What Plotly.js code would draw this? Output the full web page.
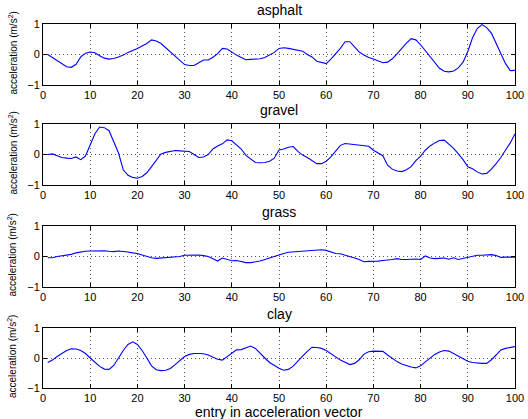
<!DOCTYPE html>
<html>
<head>
<meta charset="utf-8">
<script src="https://cdn.plot.ly/plotly-3.0.1.min.js"></script>
<style>html,body{margin:0;padding:0;background:#fff;}#chart{width:528px;height:419px;}</style>
</head>
<body>
<div id="chart"></div>
<script>
const entries = Array.from({length: 100}, (_, i) => i + 1);

const surfaces = ["asphalt", "gravel", "grass", "clay"];

const asphalt = [0.0,-0.1,-0.18,-0.3,-0.4,-0.42,-0.32,-0.08,0.04,0.08,
 0.06,-0.04,-0.12,-0.15,-0.13,-0.08,-0.02,0.07,0.13,0.2,
 0.28,0.36,0.48,0.44,0.36,0.22,0.1,-0.05,-0.2,-0.33,
 -0.36,-0.36,-0.27,-0.18,-0.18,-0.09,0.03,0.2,0.18,0.07,
 -0.02,-0.1,-0.17,-0.16,-0.15,-0.14,-0.1,-0.01,0.07,0.2,
 0.22,0.2,0.17,0.14,0.11,0.0,-0.08,-0.22,-0.27,-0.3,
 -0.15,0.02,0.2,0.42,0.42,0.25,0.08,-0.02,-0.1,-0.15,
 -0.22,-0.27,-0.25,-0.14,0.02,0.2,0.37,0.52,0.48,0.32,
 0.12,-0.08,-0.28,-0.45,-0.55,-0.57,-0.54,-0.44,-0.25,0.1,
 0.55,0.85,0.98,0.88,0.7,0.35,0.0,-0.3,-0.53,-0.52];

const gravel = [0.0,0.02,-0.04,-0.1,-0.12,-0.13,-0.08,-0.17,-0.05,0.33,
 0.68,0.9,0.88,0.78,0.4,0.05,-0.5,-0.68,-0.75,-0.78,
 -0.72,-0.6,-0.4,-0.2,0.02,0.07,0.09,0.13,0.12,0.1,
 0.1,0.0,-0.1,-0.08,0.0,0.18,0.28,0.35,0.48,0.45,
 0.3,0.18,-0.03,-0.15,-0.26,-0.27,-0.26,-0.22,-0.12,0.15,
 0.18,0.24,0.26,0.1,-0.02,-0.1,-0.2,-0.3,-0.3,-0.22,
 -0.08,0.12,0.3,0.36,0.34,0.34,0.31,0.28,0.27,0.14,
 0.05,-0.04,-0.35,-0.48,-0.54,-0.56,-0.5,-0.4,-0.2,-0.05,
 0.14,0.28,0.38,0.46,0.47,0.35,0.2,0.02,-0.17,-0.4,
 -0.47,-0.57,-0.64,-0.62,-0.48,-0.3,-0.1,0.15,0.38,0.68];

const grass = [-0.04,-0.04,0.0,0.02,0.03,0.07,0.12,0.15,0.17,0.18,
 0.18,0.2,0.19,0.17,0.16,0.18,0.17,0.15,0.12,0.1,
 0.05,0.0,-0.04,-0.06,-0.05,-0.05,-0.03,-0.02,0.0,0.04,
 0.05,0.06,0.05,0.03,0.0,-0.07,-0.15,-0.05,-0.1,-0.14,
 -0.13,-0.17,-0.2,-0.2,-0.18,-0.15,-0.1,-0.05,0.0,0.07,
 0.1,0.14,0.15,0.15,0.18,0.18,0.19,0.2,0.22,0.2,
 0.15,0.1,0.09,0.05,0.0,-0.05,-0.1,-0.17,-0.16,-0.16,
 -0.15,-0.13,-0.12,-0.1,-0.07,-0.1,-0.1,-0.09,-0.08,-0.1,
 0.02,-0.05,-0.07,-0.06,-0.05,-0.09,-0.04,-0.1,-0.06,-0.02,
 0.02,0.04,0.04,0.04,0.06,0.03,-0.03,-0.02,-0.02,-0.02];

const clay = [-0.15,-0.07,0.05,0.15,0.25,0.31,0.3,0.25,0.15,0.0,
 -0.15,-0.28,-0.37,-0.38,-0.25,0.0,0.25,0.45,0.54,0.45,
 0.25,0.0,-0.26,-0.39,-0.42,-0.41,-0.35,-0.22,-0.1,0.05,
 0.12,0.15,0.15,0.14,0.1,0.02,-0.04,-0.07,0.05,0.15,
 0.27,0.28,0.35,0.4,0.32,0.15,0.0,-0.15,-0.25,-0.34,
 -0.41,-0.38,-0.27,-0.12,0.06,0.22,0.36,0.35,0.32,0.25,
 0.15,0.03,-0.07,-0.14,-0.22,-0.18,-0.06,0.13,0.21,0.23,
 0.22,0.22,0.1,-0.02,-0.12,-0.2,-0.26,-0.3,-0.33,-0.26,
 -0.13,0.0,0.12,0.2,0.25,0.23,0.15,0.07,-0.03,-0.11,
 -0.15,-0.17,-0.18,-0.18,-0.06,0.1,0.27,0.32,0.35,0.38];

const xTicks = [0,10,20,30,40,50,60,70,80,90,100];
const yTicks = [-1,0,1];

const series = [asphalt, gravel, grass, clay];

const W = 528, H = 419;
const xDom = [43/W, 515/W];
const panelPx = [[24,85],[124,185],[226,287],[328,388]];

const font = "Liberation Sans, Arial, Helvetica, sans-serif";
const data = [];
const layout = {
  width: W, height: H,
  margin: {l:0, r:0, t:0, b:0},
  paper_bgcolor: "#fff", plot_bgcolor: "#fff",
  showlegend: false,
  font: {family: font, size: 11, color: "#000"},
  annotations: []
};

series.forEach((ys, i) => {
  const n = i === 0 ? "" : String(i+1);
  data.push({
    x: entries, y: ys, type: "scatter", mode: "lines",
    line: {color: "#0000ff", width: 1.1},
    xaxis: "x" + n, yaxis: "y" + n, hoverinfo: "skip"
  });
  const [top, bot] = panelPx[i];
  const yd = [1 - bot/H, 1 - top/H];
  const common = {
    showline: true, linecolor: "#000", linewidth: 1, mirror: "ticks",
    ticks: "inside", ticklen: 4, tickcolor: "#000", tickwidth: 1,
    showgrid: true, gridcolor: "#555", griddash: "1px,3px", gridwidth: 1,
    zeroline: false, tickfont: {family: font, size: 11, color: "#000"},
    fixedrange: true
  };
  layout["xaxis" + n] = Object.assign({}, common, {
    domain: xDom, range: [0, 100], tickmode: "array", tickvals: xTicks,
    ticktext: xTicks.map(String), anchor: "y" + n
  });
  layout["yaxis" + n] = Object.assign({}, common, {
    domain: yd, range: [-1, 1], tickmode: "array", tickvals: yTicks,
    ticktext: yTicks.map(v => v < 0 ? "\u2212" + Math.abs(v) : String(v)), anchor: "x" + n
  });
  layout.annotations.push({
    text: surfaces[i], xref: "paper", yref: "paper",
    x: (xDom[0] + xDom[1]) / 2, y: 1 - (top - 14)/H,
    xanchor: "center", yanchor: "middle", showarrow: false,
    font: {family: font, size: 14, color: "#000"}
  });
  layout.annotations.push({
    text: "acceleration (m/s<sup>2</sup>)", xref: "paper", yref: "paper",
    x: 12/W, y: 1 - ((top + bot)/2 - 1)/H, textangle: -90,
    xanchor: "center", yanchor: "middle", showarrow: false,
    font: {family: font, size: 10, color: "#000"}
  });
});

layout.annotations.push({
  text: "entry in acceleration vector", xref: "paper", yref: "paper",
  x: (xDom[0] + xDom[1]) / 2, y: 1 - 412/H,
  xanchor: "center", yanchor: "middle", showarrow: false,
  font: {family: font, size: 14, color: "#000"}
});

Plotly.newPlot("chart", data, layout, {staticPlot: true, displayModeBar: false});
</script>
</body>
</html>
